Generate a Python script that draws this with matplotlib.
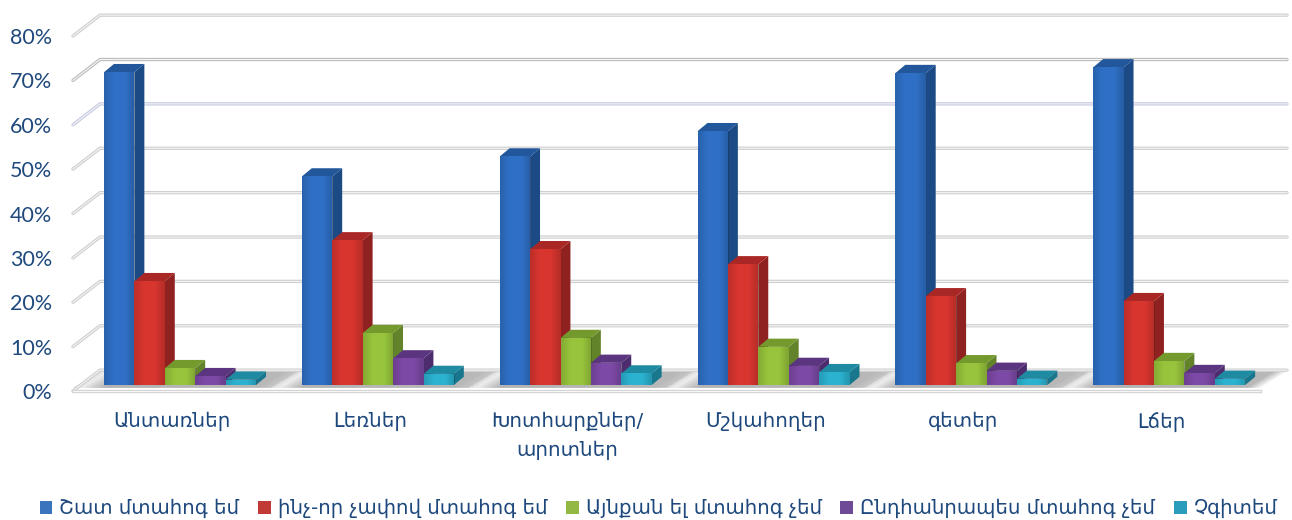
# -*- coding: utf-8 -*-
import numpy as np
import matplotlib
matplotlib.use('Agg')
import matplotlib.pyplot as plt
from matplotlib.patches import Polygon, Patch

categories = ['Անտառներ', 'Լեռներ', 'Խոտհարքներ/\nարոտներ', 'Մշկահողեր', 'գետեր', 'Լճեր']
series_names = ['Շատ մտահոգ եմ', 'ինչ-որ չափով մտահոգ եմ', 'Այնքան ել մտահոգ չեմ',
                'Ընդհանրապես մտահոգ չեմ', 'Չգիտեմ']
shat = [70.5, 47.0, 51.5, 57.2, 70.3, 71.6]
inch_vor = [23.4, 32.6, 30.6, 27.2, 20.0, 18.9]
aynqan = [3.8, 11.7, 10.6, 8.6, 4.9, 5.4]
yndhanrapes = [2.0, 6.0, 5.0, 4.3, 3.2, 2.7]
chgitem = [1.2, 2.5, 2.6, 2.9, 1.4, 1.4]
y_ticks = [0, 10, 20, 30, 40, 50, 60, 70, 80]

all_series = [shat, inch_vor, aynqan, yndhanrapes, chgitem]
front_col = ['#2f70c6', '#d8352f', '#97c43c', '#7c49a6', '#2bb2d0']
top_col = ['#22579c', '#a92725', '#74992c', '#5c3580', '#1f8ba3']
side_col = ['#1b4a85', '#8f2120', '#62832a', '#4d2c6d', '#18778c']
legend_col = ['#3a74bd', '#c23a36', '#93b944', '#6f4a97', '#2a9dbc']
text_col = '#1f497d'

# depth of the fake 3d box, in data units (x: category, y: percent)
DX = 27 / 197.8
DY = 4.7
BAR_W = 0.1537
BAR_X0 = 0.157
BASE = 1.35
BAR_DX = 0.05
BAR_DY = 1.85
FLOOR_Y = 0.7

plt.rcParams['font.family'] = ['DejaVu Sans']

fig = plt.figure(figsize=(12.92, 5.2), dpi=100)
ax = fig.add_axes([73 / 1292, (520 - 391) / 520, (1260 - 73) / 1292, (391 - 36) / 520])

# floor with soft shadows between the groups, slanted along the depth
xs = np.linspace(0, 6 + DX, 1300)
ys = np.linspace(DY - 0.3, FLOOR_Y, 24)
xg, yg = np.meshgrid(xs, ys)
xd = xg - DX * (yg - FLOOR_Y) / (DY - 0.3 - FLOOR_Y)
fr = xd % 1
img = np.interp(fr, [0, 0.04, 0.1, 0.16, 0.93, 1.0], [0.86, 0.93, 0.8, 0.7, 0.72, 0.78])
img = np.where(xd > 5.93, np.interp(xd, [5.93, 6.0], [0.72, 0.98]), img)
floor = Polygon([(0, FLOOR_Y), (DX, DY - 0.3), (6 + DX, DY - 0.3), (6, FLOOR_Y)],
                closed=True, fc='none', ec='none', clip_on=False)
ax.add_patch(floor)
im = ax.imshow(img, cmap='gray', vmin=0, vmax=1, aspect='auto', interpolation='bilinear',
               extent=(0, 6 + DX, FLOOR_Y, DY - 0.3), zorder=1)
im.set_clip_box(fig.bbox)
im.set_clip_path(floor)

# walls: gridlines with the stub going to the front
grid_col = {60: '#c6cae2', 70: '#bcbcbc'}
for p in y_ticks:
    c = grid_col.get(p, '#cfcfcf')
    xl = [0, DX, 6 + DX]
    yl = [p, p + DY, p + DY]
    ax.plot(xl, yl, color=c, lw=2.4, clip_on=False, zorder=2, solid_capstyle='round')
    ax.plot(xl, yl, color='#f4f4f4', lw=0.8, clip_on=False, zorder=2.1)
ax.plot([0, 6], [-0.1, -0.1], color='#d4d4d4', lw=2.4, clip_on=False, zorder=2.2)
ax.plot([0, 6], [-0.1, -0.1], color='#f6f6f6', lw=0.8, clip_on=False, zorder=2.3)

# soft dark edges on the front faces
edge_alpha = np.interp(np.linspace(0, 1, 16), [0, 0.3, 0.7, 1], [0.12, 0, 0, 0.16])
shine = np.zeros((1, 16, 4))
shine[0, :, 3] = edge_alpha

# bars, left to right so the neighbour hides the side face
z = 3
for g in range(len(categories)):
    for s, vals in enumerate(all_series):
        x0 = g + BAR_X0 + s * BAR_W
        x1 = x0 + BAR_W
        top = BASE + vals[g]
        ax.add_patch(Polygon([(x1, BASE), (x1 + BAR_DX, BASE + BAR_DY),
                              (x1 + BAR_DX, top + BAR_DY), (x1, top)],
                             fc=side_col[s], ec='none', clip_on=False, zorder=z))
        ax.add_patch(Polygon([(x0, top), (x0 + BAR_DX, top + BAR_DY),
                              (x1 + BAR_DX, top + BAR_DY), (x1, top)],
                             fc=top_col[s], ec='none', clip_on=False, zorder=z))
        ax.bar(x0, vals[g], width=BAR_W, bottom=BASE, align='edge', color=front_col[s],
               clip_on=False, zorder=z + 0.5)
        sh = ax.imshow(shine, aspect='auto', interpolation='bilinear',
                       extent=(x0, x1, BASE, top), zorder=z + 0.6)
        sh.set_clip_on(False)
        z += 1

ax.set_xlim(0, 6)
ax.set_ylim(0, 80)
for sp in ax.spines.values():
    sp.set_visible(False)
ax.patch.set_visible(False)

ax.set_yticks(y_ticks)
ax.set_yticklabels([str(t) + '%' for t in y_ticks], fontfamily='Lato', fontsize=15.5, color=text_col)
ax.set_xticks(np.arange(len(categories)) + 0.5)
ax.set_xticklabels(categories, fontsize=14.3, color=text_col, linespacing=1.6)
ax.tick_params(axis='y', length=0, pad=15)
ax.tick_params(axis='x', length=0, pad=15)

handles = [Patch(fc=c, ec='none') for c in legend_col]
fig.legend(handles, series_names, loc='center', bbox_to_anchor=(658.5 / 1292, 1 - 508.5 / 520),
           ncol=5, frameon=False, fontsize=14.2, labelcolor=text_col,
           handlelength=0.65, handleheight=0.65, handletextpad=0.35, columnspacing=0.95,
           borderpad=0, borderaxespad=0)

fig.savefig('out.png', dpi=100)
